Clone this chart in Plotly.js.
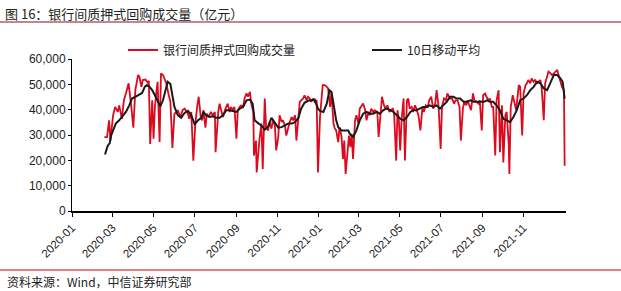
<!DOCTYPE html>
<html>
<head>
<meta charset="utf-8">
<script src="https://cdn.plot.ly/plotly-3.0.1.min.js"></script>
<style>html,body{margin:0;padding:0;background:#fff;}#chart{width:621px;height:291px;}</style>
</head>
<body>
<div id="chart"></div>
<script>
// Days since 2020-01-01 and values (亿元)
const redDay = [48,52,55,57,61,64,68,70,74,77,80,84,88,91,94,98,100,103,105,109,113,114,116,119,121,123,125,127,130,132,135,137,140,143,146,149,152,155,157,161,164,167,170,172,174,177,180,183,186,188,191,193,195,198,200,203,206,209,212,213,217,219,222,224,227,229,231,234,236,239,241,244,246,249,251,254,256,259,261,264,266,269,270,273,274,278,281,283,286,288,291,293,296,298,301,303,306,308,311,313,316,318,321,323,326,328,331,333,336,338,340,343,345,348,350,353,355,358,360,363,365,
368,372,375,378,380,383,385,388,390,392,395,397,400,402,404,406,409,411,413,415,417,420,422,425,427,430,432,435,437,440,442,444,447,449,453,455,458,460,463,465,468,471,473,476,478,481,483,485,487,489,492,494,497,499,501,504,506,509,511,514,517,520,522,525,528,530,533,536,539,541,544,547,549,552,555,557,561,564,567,569,572,575,577,580,582,585,587,590,592,595,597,600,603,605,608,610,613,615,618,620,623,625,628,630,633,635,638,640,643,645,648,649,651,654,656,659,663,665,668,670,673,675,677,680,682,685,687,690,692,695,697,700,702,705,707,710,712,715,717,720,722,725,727,730,731];
const redVal = [29200,29200,35800,27800,37800,41100,39100,41700,36400,43700,46400,50400,41100,32900,47700,53700,53000,49000,51700,51900,50400,51400,26500,43700,28500,41100,46400,51000,27200,54300,53700,52300,50400,46400,43100,24900,38400,39100,39800,37100,39800,40400,39100,38400,36400,39100,19900,34500,41700,45100,37100,35800,39800,32900,38400,37100,39100,37800,39100,23200,39100,42400,39100,37100,39800,41100,42400,39100,41100,39800,41100,28500,39800,41100,41700,41100,44400,46400,45100,47000,42400,39100,21900,27800,15200,27800,34500,16600,44400,33100,31800,35100,32500,35800,33800,23900,29200,37800,35100,35800,33800,29800,33100,35100,37100,35800,37800,27800,37100,43100,43700,44400,45700,43700,45100,44400,43100,44400,43100,43700,15200,
37100,49700,49700,49000,48400,41100,47000,34500,32500,31800,27200,33100,29200,20500,27800,14600,22500,29800,25200,30500,20500,35800,37800,34500,40400,41700,42400,39800,35800,39100,37800,40400,39100,39800,39100,29200,41100,45100,41700,40400,41700,39100,39800,40400,38400,19900,39800,35800,23900,35800,44400,19900,43700,44400,40400,41100,39100,41700,40400,37800,31800,41100,39100,41700,41100,43700,45100,40400,42400,47700,41100,24500,41100,44400,43700,46400,44400,44400,42400,43700,43700,41100,27800,40400,43100,41700,43700,41100,39800,46400,43700,43100,42400,43700,31800,45700,46400,45100,43700,44400,41100,41100,21900,43700,47700,23200,41700,19200,37800,39100,26500,14600,41100,45700,43700,39800,49700,49000,29800,46400,49700,50400,51700,50400,52300,51000,51700,50400,51000,51700,48400,35800,50400,53000,55000,54300,53700,54300,55000,55700,53700,50400,49000,47700,17900];

const maDay = [49,53,56,58,61,65,70,75,80,85,89,94,99,104,108,111,115,119,123,127,131,135,139,142,146,149,152,157,162,167,172,177,182,187,192,195,199,204,209,214,219,224,229,234,239,244,249,254,259,264,268,271,276,281,286,291,296,301,306,311,316,321,326,331,336,340,345,350,355,360,365,
368,373,378,382,385,388,392,395,400,405,410,412,417,422,427,432,437,442,447,452,457,462,467,472,477,482,487,492,497,502,506,511,516,521,526,531,536,541,546,551,556,561,566,571,576,581,586,591,596,601,606,611,616,620,625,630,635,640,645,650,655,660,665,670,675,680,685,690,695,700,705,710,715,720,725,728,731];
const maVal = [22300,25800,26800,29800,31800,34500,35800,37400,39100,41700,44400,45100,45700,46600,49000,49700,49000,47700,45700,43700,41300,43700,47700,51000,50100,45100,41100,37800,36800,38700,39500,37800,34200,35800,36800,39100,37800,37100,37400,36800,36800,37800,39800,39800,39500,39100,40400,41100,43700,44000,42400,35800,34700,33800,32100,33400,36800,34700,32900,33100,33800,34500,34500,35100,36800,40400,42700,43500,43700,44000,40400,
39500,39100,42400,47700,47000,42400,35800,33100,31800,31800,31800,30500,29200,31800,35800,38400,39100,38400,38400,39100,38400,39800,40400,39800,39100,37800,36400,35800,37100,39100,39800,39800,40400,41100,41100,41700,41100,41700,40400,41700,43100,45100,45100,44400,44400,43100,43100,43700,43100,43100,43100,43100,43700,43100,43100,41700,39800,36400,35800,35100,37100,39800,43700,44400,45700,47700,49000,51000,50400,48400,47700,50400,53700,53700,52300,51000,44400];

const tickDates = ["2020-01-01","2020-03-01","2020-05-01","2020-07-01","2020-09-01","2020-11-01","2021-01-01","2021-03-01","2021-05-01","2021-07-01","2021-09-01","2021-11-01"];
const tickLabels = ["2020-01","2020-03","2020-05","2020-07","2020-09","2020-11","2021-01","2021-03","2021-05","2021-07","2021-09","2021-11"];
const yTicks = [0,10000,20000,30000,40000,50000,60000];
const yLabels = ["0","10,000","20,000","30,000","40,000","50,000","60,000"];

const base = Date.UTC(2020,0,1);
const toDate = d => new Date(base + d*86400000).toISOString().slice(0,10);

const F = "Liberation Sans, Arial, Noto Sans CJK SC, sans-serif";
const CJK = "Noto Sans CJK SC, Liberation Sans, sans-serif";

const traces = [
  {x: redDay.map(toDate), y: redVal, type:'scatter', mode:'lines', name:'银行间质押式回购成交量',
   line:{color:'#DC0A1E', width:1.8}, legend:'legend'},
  {x: maDay.map(toDate), y: maVal, type:'scatter', mode:'lines', name:'10日移动平均',
   line:{color:'#1a1a1a', width:2}, legend:'legend2'}
];

const legBase = {orientation:'h', xanchor:'left', y:(211-50)/152, yanchor:'middle',
  font:{family:CJK, size:12, color:'#222'}, bgcolor:'rgba(0,0,0,0)', itemwidth:30};

const layout = {
  width:621, height:291,
  margin:{l:72, r:55, t:59, b:80},
  paper_bgcolor:'#fff', plot_bgcolor:'#fff',
  font:{family:F, size:12, color:'#222'},
  title:{text:'图 16：银行间质押式回购成交量（亿元）', x:5/621, xanchor:'left', xref:'container',
         y:1-14/291, yanchor:'middle', yref:'container', font:{family:CJK, size:13, color:'#222'}},
  showlegend:true,
  legend:Object.assign({}, legBase, {x:(123-72)/494}),
  legend2:Object.assign({}, legBase, {x:(367-72)/494}),
  xaxis:{type:'date', range:['2020-01-01','2022-01-03'], tickvals:tickDates, ticktext:tickLabels,
         tickangle:-45, tickfont:{family:F, size:11.5, color:'#222'}, showgrid:false, zeroline:false,
         showline:true, linecolor:'#000', linewidth:1.5, ticks:'outside', ticklen:4, tickcolor:'#000'},
  yaxis:{range:[0,60000], tickvals:yTicks, ticktext:yLabels, tickfont:{family:F, size:12, color:'#222'},
         showgrid:false, zeroline:false, showline:true, linecolor:'#000', linewidth:1,
         ticks:'outside', ticklen:3, tickcolor:'#000'},
  shapes:[
    {type:'line', xref:'paper', yref:'paper', x0:-72/494, x1:549/494, y0:(211-22)/152, y1:(211-22)/152,
     line:{color:'#8B1020', width:1.2}},
    {type:'line', xref:'paper', yref:'paper', x0:-72/494, x1:549/494, y0:(211-270)/152, y1:(211-270)/152,
     line:{color:'#C00000', width:1}}
  ],
  annotations:[
    {text:'资料来源：Wind，中信证券研究部', xref:'paper', yref:'paper', x:-67/494, y:(211-281)/152,
     xanchor:'left', yanchor:'middle', showarrow:false, font:{family:CJK, size:12, color:'#222'}}
  ]
};

Plotly.newPlot('chart', traces, layout, {displayModeBar:false, staticPlot:true});
</script>
</body>
</html>
